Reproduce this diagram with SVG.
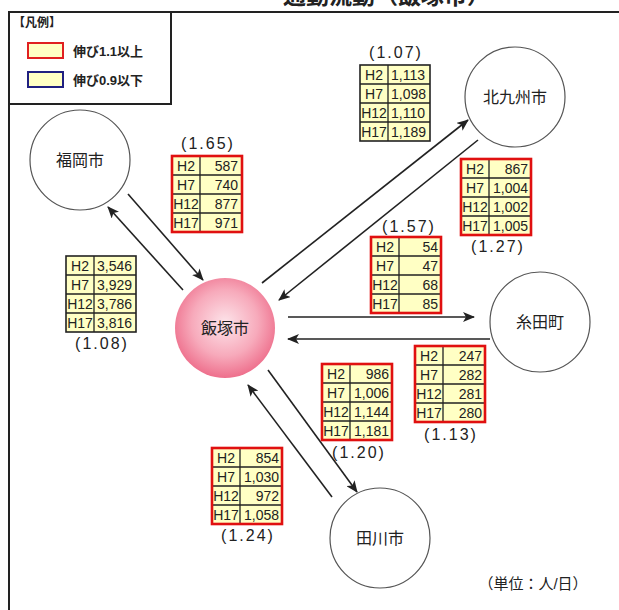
<svg xmlns="http://www.w3.org/2000/svg" width="619" height="610" viewBox="0 0 619 610">
<defs>
<style>
text{font-family:"Liberation Sans","Noto Sans CJK JP",sans-serif;fill:#222}
.node{fill:#fff;stroke:#555;stroke-width:1.2}
.nt{font-size:16px;text-anchor:middle}
.cell{fill:#ffffc4}
.grid{stroke:#222;stroke-width:1.3;fill:none}
.red{stroke:#e01010;stroke-width:2.6;fill:none}
.blk{stroke:#222;stroke-width:1.6;fill:none}
.c{font-size:14px}
.lab{text-anchor:middle}
.vr{text-anchor:end}
.rt{font-size:16px;text-anchor:middle;letter-spacing:2px}
.conn line{stroke:#222;stroke-width:1.6;marker-end:url(#ah)}
</style>
<marker id="ah" viewBox="0 0 12 10" refX="11" refY="5" markerWidth="12" markerHeight="10" markerUnits="userSpaceOnUse" orient="auto">
<path d="M0,0 L12,5 L0,10 L3,5 Z" fill="#222"/>
</marker>
<radialGradient id="pink" cx="50%" cy="45%" r="55%">
<stop offset="0" stop-color="#fde4ea"/>
<stop offset="0.6" stop-color="#f7aabb"/>
<stop offset="1" stop-color="#ee6f8c"/>
</radialGradient>
</defs>
<rect width="619" height="610" fill="#fff"/>
<text x="283" y="4" font-size="23" font-weight="bold">通勤流動（飯塚市）</text>
<path d="M8,12 H619 M9,12 V610" stroke="#222" stroke-width="2" fill="none"/>

<g id="legend">
<rect x="9" y="12" width="162" height="92" fill="#fff" stroke="#222" stroke-width="2"/>
<text x="13" y="27" font-size="12" font-weight="bold">【凡例】</text>
<rect x="28" y="43" width="35" height="15" fill="#ffffc4" stroke="#e02020" stroke-width="2"/>
<text x="73" y="56" font-size="13" font-weight="bold" fill="#333">伸び1.1以上</text>
<rect x="28" y="72" width="35" height="15" fill="#ffffc4" stroke="#202080" stroke-width="2"/>
<text x="73" y="85" font-size="13" font-weight="bold" fill="#333">伸び0.9以下</text>
</g>

<g class="conn" id="connectors">
<line x1="183" y1="290" x2="108" y2="207"/>
<line x1="128" y1="194" x2="203" y2="280"/>
<line x1="262" y1="283" x2="468" y2="120"/>
<line x1="478" y1="140" x2="279" y2="300"/>
<line x1="288" y1="317" x2="474" y2="317"/>
<line x1="490" y1="339" x2="288" y2="339"/>
<line x1="268" y1="370" x2="357" y2="492"/>
<line x1="332" y1="497" x2="248" y2="385"/>
</g>

<g id="fukuoka"><circle class="node" cx="80" cy="160" r="50"/><text class="nt" x="80" y="166">福岡市</text></g>
<g id="kitakyushu"><circle class="node" cx="515" cy="97" r="50"/><text class="nt" x="515" y="103">北九州市</text></g>
<g id="iizuka"><circle cx="225" cy="328" r="50" fill="url(#pink)"/><text class="nt" x="225" y="334">飯塚市</text></g>
<g id="itoda"><circle class="node" cx="540" cy="322" r="50"/><text class="nt" x="540" y="328">糸田町</text></g>
<g id="tagawa"><circle class="node" cx="380" cy="538" r="50"/><text class="nt" x="380" y="544">田川市</text></g>

<g id="t165" transform="translate(172,156)">
<rect class="cell" width="70" height="76"/>
<path class="grid" d="M28,0V76M0,19H70M0,38H70M0,57H70"/>
<rect class="red" width="70" height="76"/>
<text class="c lab" x="14" y="15">H2</text><text class="c lab" x="14" y="34">H7</text><text class="c lab" x="14" y="53">H12</text><text class="c lab" x="14" y="72">H17</text>
<text class="c vr" x="66" y="15">587</text><text class="c vr" x="66" y="34">740</text><text class="c vr" x="66" y="53">877</text><text class="c vr" x="66" y="72">971</text>
<text class="rt" x="36" y="-7">(1.65)</text>
</g>

<g id="t107" transform="translate(360,65)">
<rect class="cell" width="70" height="76"/>
<path class="grid" d="M28,0V76M0,19H70M0,38H70M0,57H70"/>
<rect class="blk" width="70" height="76"/>
<text class="c lab" x="14" y="15">H2</text><text class="c lab" x="14" y="34">H7</text><text class="c lab" x="14" y="53">H12</text><text class="c lab" x="14" y="72">H17</text>
<text class="c" x="31" y="15">1,113</text><text class="c" x="31" y="34">1,098</text><text class="c" x="31" y="53">1,110</text><text class="c" x="31" y="72">1,189</text>
<text class="rt" x="36" y="-7">(1.07)</text>
</g>

<g id="t127" transform="translate(461,159)">
<rect class="cell" width="70" height="76"/>
<path class="grid" d="M28,0V76M0,19H70M0,38H70M0,57H70"/>
<rect class="red" width="70" height="76"/>
<text class="c lab" x="14" y="15">H2</text><text class="c lab" x="14" y="34">H7</text><text class="c lab" x="14" y="53">H12</text><text class="c lab" x="14" y="72">H17</text>
<text class="c vr" x="67" y="15">867</text><text class="c vr" x="67" y="34">1,004</text><text class="c vr" x="67" y="53">1,002</text><text class="c vr" x="67" y="72">1,005</text>
<text class="rt" x="37" y="93">(1.27)</text>
</g>

<g id="t108" transform="translate(66,256)">
<rect class="cell" width="70" height="76"/>
<path class="grid" d="M28,0V76M0,19H70M0,38H70M0,57H70"/>
<rect class="blk" width="70" height="76"/>
<text class="c lab" x="14" y="15">H2</text><text class="c lab" x="14" y="34">H7</text><text class="c lab" x="14" y="53">H12</text><text class="c lab" x="14" y="72">H17</text>
<text class="c" x="31" y="15">3,546</text><text class="c" x="31" y="34">3,929</text><text class="c" x="31" y="53">3,786</text><text class="c" x="31" y="72">3,816</text>
<text class="rt" x="36" y="93">(1.08)</text>
</g>

<g id="t157" transform="translate(371,237)">
<rect class="cell" width="70" height="76"/>
<path class="grid" d="M28,0V76M0,19H70M0,38H70M0,57H70"/>
<rect class="red" width="70" height="76"/>
<text class="c lab" x="14" y="15">H2</text><text class="c lab" x="14" y="34">H7</text><text class="c lab" x="14" y="53">H12</text><text class="c lab" x="14" y="72">H17</text>
<text class="c vr" x="67" y="15">54</text><text class="c vr" x="67" y="34">47</text><text class="c vr" x="67" y="53">68</text><text class="c vr" x="67" y="72">85</text>
<text class="rt" x="38" y="-5">(1.57)</text>
</g>

<g id="t113" transform="translate(415,346)">
<rect class="cell" width="70" height="76"/>
<path class="grid" d="M28,0V76M0,19H70M0,38H70M0,57H70"/>
<rect class="red" width="70" height="76"/>
<text class="c lab" x="14" y="15">H2</text><text class="c lab" x="14" y="34">H7</text><text class="c lab" x="14" y="53">H12</text><text class="c lab" x="14" y="72">H17</text>
<text class="c vr" x="67" y="15">247</text><text class="c vr" x="67" y="34">282</text><text class="c vr" x="67" y="53">281</text><text class="c vr" x="67" y="72">280</text>
<text class="rt" x="36" y="94">(1.13)</text>
</g>

<g id="t120" transform="translate(322,364)">
<rect class="cell" width="70" height="76"/>
<path class="grid" d="M28,0V76M0,19H70M0,38H70M0,57H70"/>
<rect class="red" width="70" height="76"/>
<text class="c lab" x="14" y="15">H2</text><text class="c lab" x="14" y="34">H7</text><text class="c lab" x="14" y="53">H12</text><text class="c lab" x="14" y="72">H17</text>
<text class="c vr" x="67" y="15">986</text><text class="c vr" x="67" y="34">1,006</text><text class="c vr" x="67" y="53">1,144</text><text class="c vr" x="67" y="72">1,181</text>
<text class="rt" x="37" y="94">(1.20)</text>
</g>

<g id="t124" transform="translate(212,448)">
<rect class="cell" width="70" height="76"/>
<path class="grid" d="M28,0V76M0,19H70M0,38H70M0,57H70"/>
<rect class="red" width="70" height="76"/>
<text class="c lab" x="14" y="15">H2</text><text class="c lab" x="14" y="34">H7</text><text class="c lab" x="14" y="53">H12</text><text class="c lab" x="14" y="72">H17</text>
<text class="c vr" x="67" y="15">854</text><text class="c vr" x="67" y="34">1,030</text><text class="c vr" x="67" y="53">972</text><text class="c vr" x="67" y="72">1,058</text>
<text class="rt" x="36" y="93">(1.24)</text>
</g>

<text x="533" y="589" font-size="15" text-anchor="middle">（単位：人/日）</text>
</svg>
